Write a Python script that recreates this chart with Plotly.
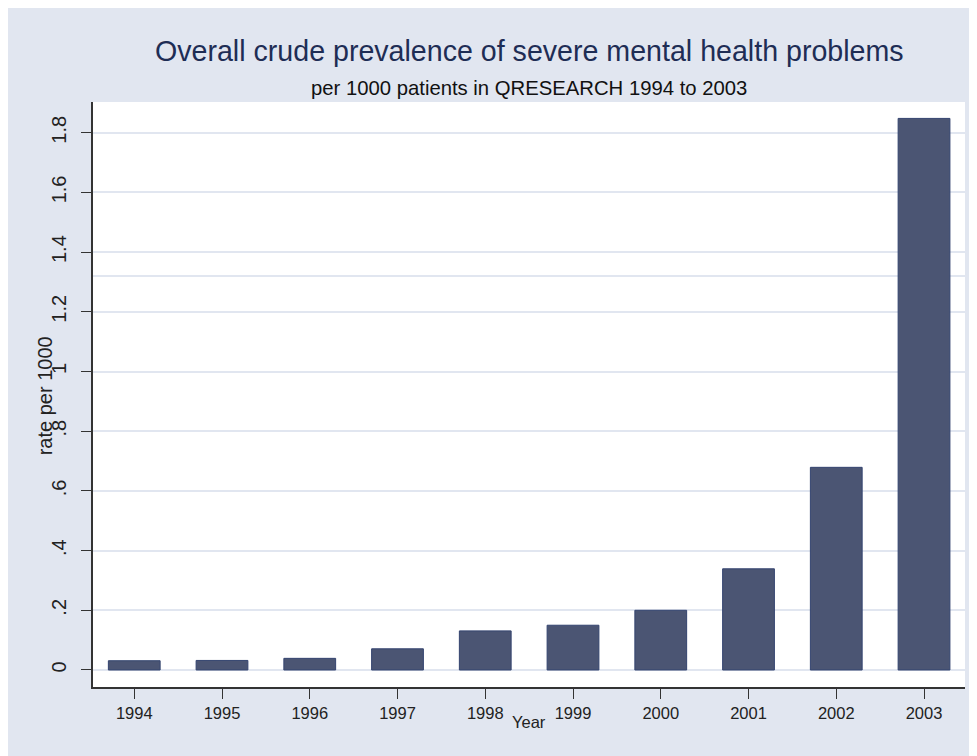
import plotly.graph_objects as go

# ---- data ----
years = [1994, 1995, 1996, 1997, 1998, 1999, 2000, 2001, 2002, 2003]
rates = [0.031, 0.032, 0.039, 0.071, 0.131, 0.150, 0.200, 0.339, 0.679, 1.848]
y_tick_vals = [0, 0.2, 0.4, 0.6, 0.8, 1.0, 1.2, 1.4, 1.6, 1.8]
y_tick_text = ["0", ".2", ".4", ".6", ".8", "1", "1.2", "1.4", "1.6", "1.8"]
extra_ref_line = 1.32

title_text = "Overall crude prevalence of severe mental health problems"
subtitle_text = "per 1000 patients in QRESEARCH 1994 to 2003"
x_title = "Year"
y_title = "rate per 1000"

# ---- style ----
BG = "#e1e6f0"
BAR = "#4b5573"
BAR_EDGE = "#34446f"
GRID = "#e1e6f0"
AXIS = "#333333"
FONT = "Liberation Sans, Arial, Helvetica, sans-serif"

fig = go.Figure()
fig.add_trace(go.Bar(
    x=years, y=rates, width=0.59,
    marker=dict(color=BAR, line=dict(color=BAR_EDGE, width=1)),
    hoverinfo="x+y",
))

fig.add_hline(y=extra_ref_line, line=dict(color=GRID, width=2), layer="below")

fig.update_layout(
    width=969, height=748,
    margin=dict(l=85, r=12, t=94, b=69),
    paper_bgcolor=BG, plot_bgcolor="white",
    showlegend=False,
    font=dict(family=FONT, color="#222222"),
    xaxis=dict(
        range=[1993.53, 2003.467],
        tickmode="array", tickvals=years, ticktext=[str(y) for y in years],
        ticks="outside", ticklen=10, tickwidth=1, tickcolor=AXIS,
        showline=True, linecolor=AXIS, linewidth=1.5,
        showgrid=False, zeroline=False,
        tickfont=dict(size=16.5, family=FONT, color="#222222"),
    ),
    yaxis=dict(
        range=[-0.057, 1.903],
        tickmode="array", tickvals=y_tick_vals, ticktext=y_tick_text,
        tickangle=-90,
        ticks="outside", ticklen=10, tickwidth=1, tickcolor=AXIS,
        showline=True, linecolor=AXIS, linewidth=1.5,
        showgrid=True, gridcolor=GRID, gridwidth=2,
        zeroline=False,
        tickfont=dict(size=20, family=FONT, color="#222222"),
        ticklabelstandoff=7,
    ),
    annotations=[
        dict(text=title_text, x=0.5, y=1.088, xref="paper", yref="paper",
             xanchor="center", yanchor="middle", showarrow=False,
             font=dict(size=28.6, family=FONT, color="#1e2d55")),
        dict(text=subtitle_text, x=0.5, y=1.024, xref="paper", yref="paper",
             xanchor="center", yanchor="middle", showarrow=False,
             font=dict(size=20.3, family=FONT, color="#111111")),
        dict(text=x_title, x=0.5, y=-0.0598, xref="paper", yref="paper",
             xanchor="center", yanchor="middle", showarrow=False,
             font=dict(size=16.5, family=FONT, color="#222222")),
        dict(text=y_title, x=-0.055, y=0.497, xref="paper", yref="paper",
             xanchor="center", yanchor="middle", showarrow=False, textangle=-90,
             font=dict(size=20, family=FONT, color="#222222")),
    ],
)

fig.write_html("out.html")
